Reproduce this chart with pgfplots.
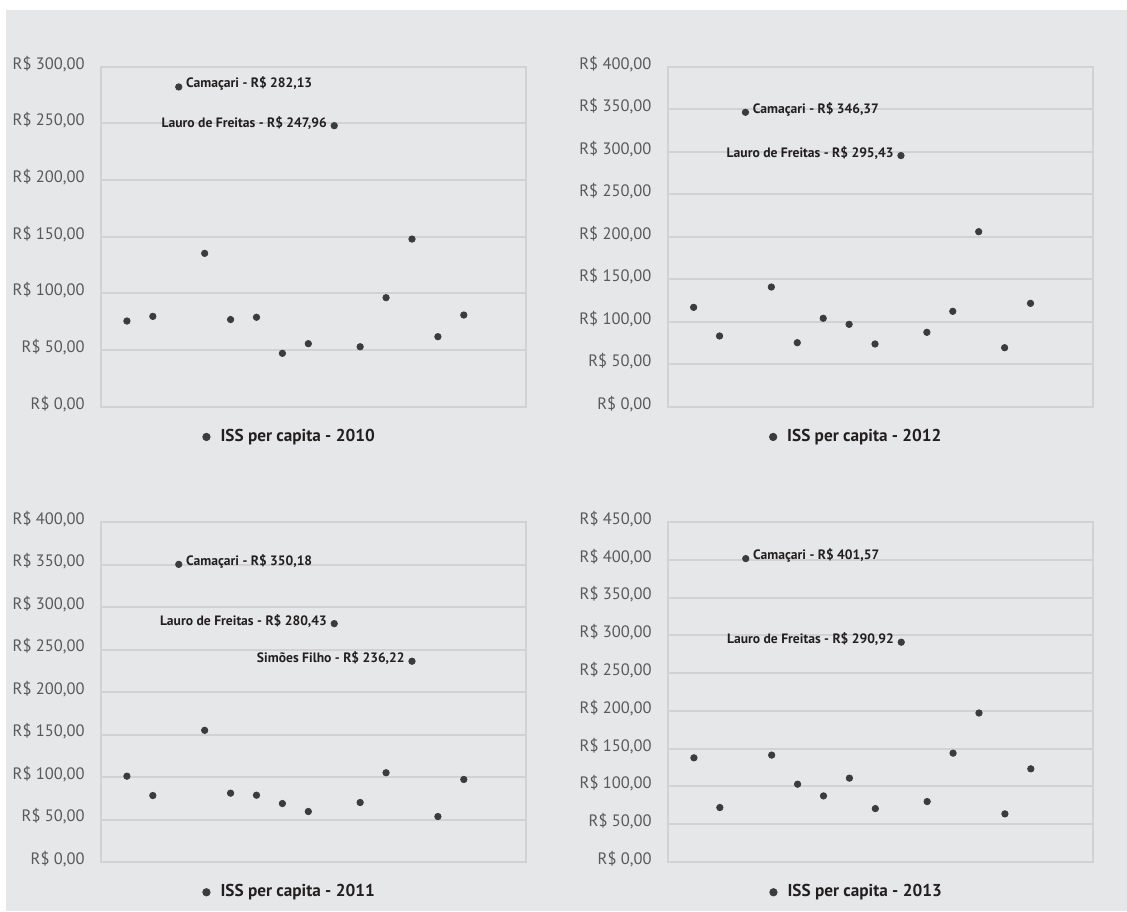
\documentclass[border=0pt]{standalone}
\usepackage{fontspec}
\setmainfont{PT Sans}
\usepackage{pgfplots}
\pgfplotsset{compat=1.18}
\definecolor{bgcol}{RGB}{230,231,232}
\definecolor{gridcol}{RGB}{209,210,212}
\definecolor{dotcol}{RGB}{60,60,62}
\definecolor{tickcol}{RGB}{88,89,91}
\definecolor{txtcol}{RGB}{35,31,32}
\tikzset{annot/.style={font=\fontsize{6.8}{8}\selectfont\bfseries, text=txtcol, inner sep=0pt}}
\pgfplotsset{
  panel/.style={
    width=212.5pt, height=170pt, scale only axis,
    anchor=south west,
    xmin=0, xmax=16.4, ymin=0,
    xtick=\empty,
    ytick distance=50,
    ymajorgrids,
    grid style={draw=gridcol, line width=1pt},
    axis line style={draw=gridcol, line width=1pt},
    major tick length=0pt,
    ytick style={draw=none},
    yticklabel style={font=\fontsize{8.25}{10}\selectfont, text=tickcol, inner sep=0pt, anchor=east, xshift=-8pt, yshift=1.5pt},
    clip=false,
    legend style={draw=none, fill=none, at={(0.446,-0.089)}, anchor=center,
      font=\fontsize{8.6}{10}\selectfont\bfseries, text=txtcol,
      /tikz/every odd column/.append style={column sep=3pt}},
    legend image code/.code={\fill[dotcol] (0.3cm,0cm) circle (1.85pt);},
  },
  dots/.style={only marks, mark=*, mark size=1.6pt, mark options={draw=dotcol, fill=dotcol}},
}
\begin{document}
\begin{tikzpicture}
\path (0pt,0pt) rectangle (563.5pt,455.5pt);
\fill[bgcol] (3pt,0pt) rectangle (563.5pt,450.5pt);

% 2010
\begin{axis}[panel, at={(50.5pt,252.15pt)}, ymax=300,
  ytick={0,50,100,150,200,250,300},
  yticklabels={R\$ 0{,}00,R\$ 50{,}00,R\$ 100{,}00,R\$ 150{,}00,R\$ 200{,}00,R\$ 250{,}00,R\$ 300{,}00}]
\addplot[dots] coordinates {(1,75.6) (2,79.7) (3,282.13) (4,135.3) (5,76.9) (6,78.9) (7,47.1) (8,55.6) (9,247.96) (10,52.9) (11,96.2) (12,147.9) (13,61.8) (14,80.9)};
\addlegendentry{ISS per capita - 2010}
\node[annot, anchor=west, xshift=3.5pt, yshift=1.5pt] at (axis cs:3,282.13) {Camaçari - R\$ 282,13};
\node[annot, anchor=east, xshift=-3.5pt, yshift=1.5pt] at (axis cs:9,247.96) {Lauro de Freitas - R\$ 247,96};
\end{axis}

% 2012
\begin{axis}[panel, at={(333.85pt,252.15pt)}, ymax=400,
  ytick={0,50,100,150,200,250,300,350,400},
  yticklabels={R\$ 0{,}00,R\$ 50{,}00,R\$ 100{,}00,R\$ 150{,}00,R\$ 200{,}00,R\$ 250{,}00,R\$ 300{,}00,R\$ 350{,}00,R\$ 400{,}00}]
\addplot[dots] coordinates {(1,116.9) (2,83.2) (3,346.37) (4,140.8) (5,75.3) (6,104.0) (7,96.9) (8,73.8) (9,295.43) (10,87.5) (11,112.2) (12,205.9) (13,69.4) (14,121.6)};
\addlegendentry{ISS per capita - 2012}
\node[annot, anchor=west, xshift=3.5pt, yshift=1.5pt] at (axis cs:3,346.37) {Camaçari - R\$ 346,37};
\node[annot, anchor=east, xshift=-3.5pt, yshift=1.5pt] at (axis cs:9,295.43) {Lauro de Freitas - R\$ 295,43};
\end{axis}

% 2011
\begin{axis}[panel, at={(50.5pt,24.5pt)}, ymax=400,
  ytick={0,50,100,150,200,250,300,350,400},
  yticklabels={R\$ 0{,}00,R\$ 50{,}00,R\$ 100{,}00,R\$ 150{,}00,R\$ 200{,}00,R\$ 250{,}00,R\$ 300{,}00,R\$ 350{,}00,R\$ 400{,}00}]
\addplot[dots] coordinates {(1,101.0) (2,78.2) (3,350.18) (4,154.9) (5,81.0) (6,78.6) (7,68.8) (8,59.4) (9,280.43) (10,70.0) (11,105.0) (12,236.22) (13,53.5) (14,97.1)};
\addlegendentry{ISS per capita - 2011}
\node[annot, anchor=west, xshift=3.5pt, yshift=1.5pt] at (axis cs:3,350.18) {Camaçari - R\$ 350,18};
\node[annot, anchor=east, xshift=-3.5pt, yshift=1.5pt] at (axis cs:9,280.43) {Lauro de Freitas - R\$ 280,43};
\node[annot, anchor=east, xshift=-3.5pt, yshift=1.5pt] at (axis cs:12,236.22) {Simões Filho - R\$ 236,22};
\end{axis}

% 2013
\begin{axis}[panel, at={(334pt,24.5pt)}, ymax=450,
  ytick={0,50,100,150,200,250,300,350,400,450},
  yticklabels={R\$ 0{,}00,R\$ 50{,}00,R\$ 100{,}00,R\$ 150{,}00,R\$ 200{,}00,R\$ 250{,}00,R\$ 300{,}00,R\$ 350{,}00,R\$ 400{,}00,R\$ 450{,}00}]
\addplot[dots] coordinates {(1,137.9) (2,72.1) (3,401.57) (4,141.5) (5,103.0) (6,87.5) (7,111.0) (8,70.7) (9,290.92) (10,80.0) (11,144.1) (12,197.2) (13,63.7) (14,123.3)};
\addlegendentry{ISS per capita - 2013}
\node[annot, anchor=west, xshift=3.5pt, yshift=1.5pt] at (axis cs:3,401.57) {Camaçari - R\$ 401,57};
\node[annot, anchor=east, xshift=-3.5pt, yshift=1.5pt] at (axis cs:9,290.92) {Lauro de Freitas - R\$ 290,92};
\end{axis}
\end{tikzpicture}
\end{document}
